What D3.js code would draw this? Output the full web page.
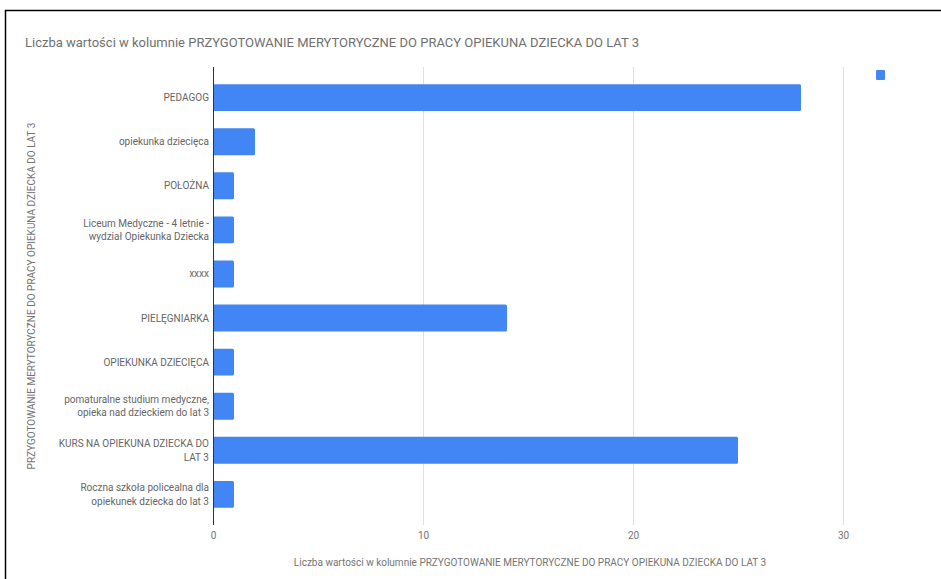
<!DOCTYPE html>
<html>
<head>
<meta charset="utf-8">
<script src="https://cdn.jsdelivr.net/npm/d3@7"></script>
<style>
  html, body { margin: 0; padding: 0; background: #fff; }
  svg { display: block; font-family: Roboto, "Noto Sans", sans-serif; }
</style>
</head>
<body>
<div id="chart"></div>
<script>
const chartTitle = "Liczba wartości w kolumnie PRZYGOTOWANIE MERYTORYCZNE DO PRACY OPIEKUNA DZIECKA DO LAT 3";
const xAxisTitle = "Liczba wartości w kolumnie PRZYGOTOWANIE MERYTORYCZNE DO PRACY OPIEKUNA DZIECKA DO LAT 3";
const yAxisTitle = "PRZYGOTOWANIE MERYTORYCZNE DO PRACY OPIEKUNA DZIECKA DO LAT 3";
const categories = [
  ["PEDAGOG"],
  ["opiekunka dziecięca"],
  ["POŁOŻNA"],
  ["Liceum Medyczne - 4 letnie -", "wydział Opiekunka Dziecka"],
  ["xxxx"],
  ["PIELĘGNIARKA"],
  ["OPIEKUNKA DZIECIĘCA"],
  ["pomaturalne studium medyczne,", "opieka nad dzieckiem do lat 3"],
  ["KURS NA OPIEKUNA DZIECKA DO", "LAT 3"],
  ["Roczna szkoła policealna dla", "opiekunek dziecka do lat 3"]
];
const values = [28, 2, 1, 1, 1, 14, 1, 1, 25, 1];
const xTicks = [0, 10, 20, 30];

const W = 941, H = 579;
const svg = d3.select("#chart").append("svg").attr("width", W).attr("height", H);
svg.append("rect").attr("width", W).attr("height", H).attr("fill", "#fff");

// frame (left and top edge of the captured page)
svg.append("line").attr("x1", 5.5).attr("x2", 5.5).attr("y1", 10).attr("y2", H).attr("stroke", "#000").attr("stroke-width", 1.5);
svg.append("line").attr("x1", 5).attr("x2", W).attr("y1", 10.5).attr("y2", 10.5).attr("stroke", "#000").attr("stroke-width", 1.5);

const plot = { left: 213, right: 843, top: 67, bottom: 525 };
const ids = categories.map((c, i) => i);
const x = d3.scaleLinear().domain([0, 30]).range([plot.left, plot.right]);
const y = d3.scaleBand().domain(ids).range([plot.top, plot.bottom]).paddingInner(0.39).paddingOuter(0.39);

// gridlines
svg.append("g").selectAll("line").data(xTicks.filter(t => t !== 0)).join("line")
  .attr("x1", d => x(d) + 0.5).attr("x2", d => x(d) + 0.5)
  .attr("y1", plot.top).attr("y2", plot.bottom)
  .attr("stroke", "#e0e0e0").attr("stroke-width", 1);

// bars
svg.append("g").selectAll("rect").data(values).join("rect")
  .attr("x", x(0))
  .attr("y", (d, i) => y(i))
  .attr("width", d => x(d) - x(0))
  .attr("height", y.bandwidth())
  .attr("rx", 1.5)
  .attr("fill", "#4285f4");

// baseline
svg.append("line").attr("x1", x(0) + 0.5).attr("x2", x(0) + 0.5)
  .attr("y1", plot.top).attr("y2", plot.bottom)
  .attr("stroke", "#333").attr("stroke-width", 1);

// x axis tick labels
const xAxis = d3.axisBottom(x).tickValues(xTicks).tickSize(0).tickPadding(0).tickFormat(d3.format("d"));
const gx = svg.append("g").attr("transform", `translate(0,${plot.bottom + 7})`).call(xAxis);
gx.select(".domain").remove();
gx.selectAll("text").attr("fill", "#757575").attr("font-size", 10).attr("font-family", "Roboto");

// y labels
const yl = svg.append("g");
categories.forEach((lines, i) => {
  const cy = y(i) + y.bandwidth() / 2;
  const lh = 13.5;
  const t = yl.append("text")
    .attr("text-anchor", "end")
    .attr("font-size", 10)
    .attr("fill", "#666");
  lines.forEach((ln, k) => {
    t.append("tspan").attr("x", x(0) - 4)
      .attr("y", cy + (k - (lines.length - 1) / 2) * lh)
      .attr("dy", "0.35em")
      .text(ln);
  });
});

// title
svg.append("text").attr("x", 25).attr("y", 47)
  .attr("font-size", 13).attr("fill", "#707070").text(chartTitle);

// x axis title
svg.append("text").attr("x", 530).attr("y", 566).attr("text-anchor", "middle")
  .attr("font-size", 10).attr("fill", "#757575").text(xAxisTitle);

// y axis title
svg.append("text").attr("transform", `translate(35,${(plot.top + plot.bottom) / 2}) rotate(-90)`)
  .attr("text-anchor", "middle").attr("font-size", 10).attr("fill", "#757575").text(yAxisTitle);

// legend marker (series without name)
svg.append("rect").attr("x", 876).attr("y", 70).attr("width", 9).attr("height", 10).attr("rx", 1).attr("fill", "#4285f4");
</script>
</body>
</html>
